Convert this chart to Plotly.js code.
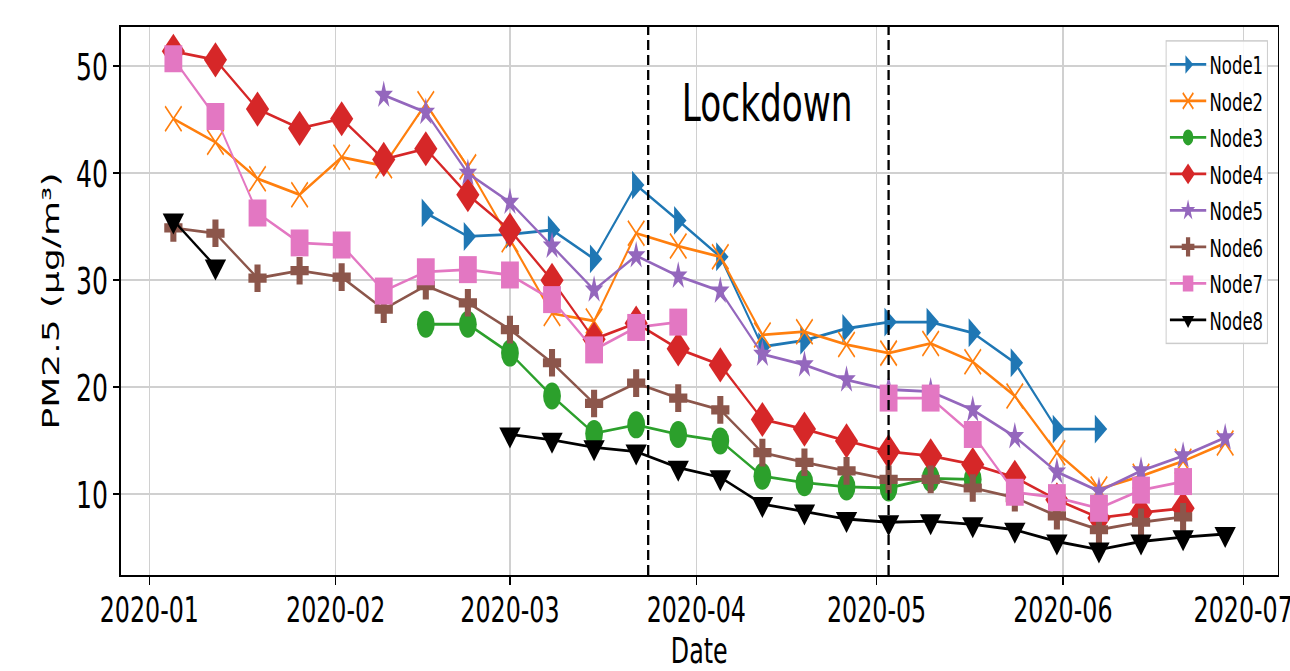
<!DOCTYPE html>
<html>
<head>
<meta charset="utf-8">
<script src="https://cdn.plot.ly/plotly-3.0.1.min.js"></script>
<style>
  html, body { margin:0; padding:0; width:1290px; height:671px; overflow:hidden; background:#fff; }
  #plot { width:1955px; height:671px; transform:scaleX(0.66); transform-origin:0 0; }
</style>
</head>
<body>
<div id="plot"></div>
<script>
const dates = ["2020-01-05","2020-01-12","2020-01-19","2020-01-26","2020-02-02","2020-02-09","2020-02-16","2020-02-23",
  "2020-03-01","2020-03-08","2020-03-15","2020-03-22","2020-03-29","2020-04-05","2020-04-12","2020-04-19","2020-04-26",
  "2020-05-03","2020-05-10","2020-05-17","2020-05-24","2020-05-31","2020-06-07","2020-06-14","2020-06-21","2020-06-28"];

const node1 = [null,null,null,null,null,null,36.3,34.1,34.3,34.7,32.0,38.9,35.6,32.2,23.8,24.4,25.5,26.1,26.1,25.1,22.3,16.1,16.1,null,null,null];
const node2 = [45.1,42.9,39.5,38.0,41.5,40.7,46.5,40.6,33.8,26.9,26.2,34.4,33.2,32.2,24.9,25.2,24.0,23.2,24.1,22.4,19.2,13.9,10.5,11.7,13.1,14.8];
const node3 = [null,null,null,null,null,null,25.9,25.9,23.2,19.2,15.7,16.5,15.6,15.0,11.7,11.1,10.7,10.6,11.5,11.4,null,null,null,null,null,null];
const node4 = [51.4,50.6,46.0,44.2,45.1,41.3,42.3,38.0,34.7,30.0,24.5,26.0,23.6,22.1,17.0,16.1,15.0,14.0,13.6,12.8,11.6,9.5,7.8,8.3,8.7,null];
const node5 = [null,null,null,null,null,47.3,45.7,40.0,37.3,33.2,29.1,32.3,30.4,29.0,23.1,22.1,20.7,19.8,19.6,17.9,15.4,12.1,10.3,12.2,13.6,15.3];
const node6 = [34.9,34.4,30.2,30.9,30.3,27.3,29.5,27.9,25.4,22.3,18.5,20.4,19.0,17.9,13.9,13.0,12.2,11.4,11.4,10.6,9.7,8.0,6.7,7.4,7.9,null];
const node7 = [50.7,45.3,36.3,33.5,33.3,29.0,30.8,31.0,30.5,28.2,23.5,25.6,26.1,null,null,null,null,19.0,19.0,15.6,10.2,9.7,8.7,10.4,11.2,null];
const node8 = [35.6,31.3,null,null,null,null,null,null,15.6,15.1,14.4,14.0,12.5,11.6,9.1,8.4,7.7,7.4,7.5,7.2,6.7,5.6,4.85,5.6,6.0,6.3];

const names = ["Node1","Node2","Node3","Node4","Node5","Node6","Node7","Node8"];
const series = [node1,node2,node3,node4,node5,node6,node7,node8];
const colors = ["#1f77b4","#ff7f0e","#2ca02c","#d62728","#9467bd","#8c564b","#e377c2","#000000"];
const symbols = ["triangle-right","x-thin","circle","diamond","star","cross","square","triangle-down"];
const sizes = [25,25,27,27,21,23,27,28];

const lockdownDates = ["2020-03-24","2020-05-03"];
const lockdownLabel = "Lockdown";

const traces = series.map((ys,i) => {
  const isX = symbols[i] === "x-thin";
  return {
    type: "scatter",
    mode: "lines+markers",
    x: dates,
    y: ys,
    name: names[i],
    legendgroup: "g" + i,
    line: { color: colors[i], width: 2.8 },
    marker: {
      symbol: symbols[i],
      size: sizes[i],
      color: colors[i],
      line: isX ? { color: colors[i], width: 2.2 } : { width: 0 }
    },
    connectgaps: false
  };
});

const shapes = lockdownDates.map(d => ({
  type: "line", xref: "x", yref: "paper", x0: d, x1: d, y0: 0, y1: 1,
  line: { color: "#000", width: 3.5, dash: "10px,5px" }
}));

const font = "DejaVu Sans";
const layout = {
  width: 1955, height: 671,
  margin: { l: 183, r: 19, t: 27, b: 96 },
  paper_bgcolor: "#fff", plot_bgcolor: "#fff",
  font: { family: font, color: "#000" },
  showlegend: true,
  legend: {
    x: 0.9915, xanchor: "right", y: 0.976, yanchor: "top",
    bgcolor: "rgba(255,255,255,0.85)", bordercolor: "#cccccc", borderwidth: 1.5,
    font: { family: font, size: 25, color: "#000" },
    traceorder: "grouped", tracegroupgap: 1, itemsizing: "trace", itemwidth: 55
  },
  xaxis: {
    type: "date",
    range: ["2019-12-27 06:00", "2020-07-06 18:00"],
    tick0: "2020-01-01", dtick: "M1", tickformat: "%Y-%m",
    showgrid: true, gridcolor: "#d0d0d0", gridwidth: 2,
    showline: true, linecolor: "#000", linewidth: 2, mirror: true,
    ticks: "outside", ticklen: 8, tickwidth: 2, tickcolor: "#000",
    ticklabeloverflow: "allow", ticklabelstandoff: -6,
    tickfont: { family: font, size: 36, color: "#000" },
    title: { text: "Date", font: { family: font, size: 36, color: "#000" }, standoff: 22 },
    zeroline: false
  },
  yaxis: {
    range: [2.47, 53.67],
    tick0: 10, dtick: 10,
    showgrid: true, gridcolor: "#d0d0d0", gridwidth: 2,
    showline: true, linecolor: "#000", linewidth: 2, mirror: true,
    ticks: "outside", ticklen: 10, tickwidth: 2, tickcolor: "#000",
    tickfont: { family: font, size: 38, color: "#000" },
    title: { text: "PM2.5 (µg/m³)", font: { family: font, size: 36, color: "#000" }, standoff: 14 },
    zeroline: false
  },
  shapes: shapes,
  annotations: [{
    x: "2020-04-12 19:00", y: 46.6, xref: "x", yref: "y",
    text: lockdownLabel, showarrow: false,
    font: { family: font, size: 52, color: "#000" },
    xanchor: "center", yanchor: "middle"
  }]
};

Plotly.newPlot("plot", traces, layout, { displayModeBar: false, staticPlot: true });
</script>
</body>
</html>
